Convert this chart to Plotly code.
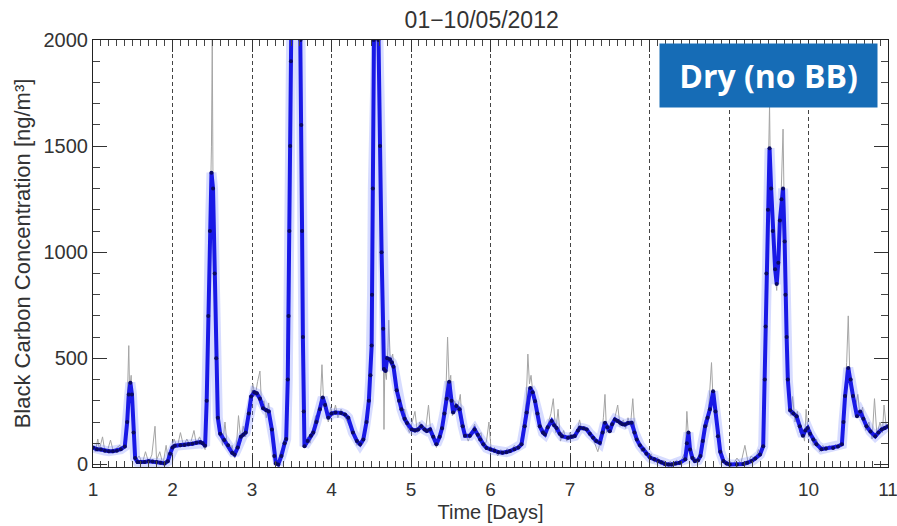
import plotly.graph_objects as go

# Dias / valores (curva azul suavizada)
blue_days = [1.00, 1.05, 1.10, 1.15, 1.20, 1.25, 1.30, 1.35, 1.40, 1.43, 1.45, 1.47, 1.49, 1.51, 1.53, 1.56,
             1.60, 1.65, 1.70, 1.75, 1.80, 1.85, 1.90, 1.94, 1.97, 2.00, 2.03, 2.10, 2.15, 2.20, 2.25, 2.30,
             2.35, 2.38, 2.41, 2.43, 2.45, 2.47, 2.49, 2.51, 2.53, 2.55, 2.57, 2.60, 2.65, 2.70, 2.75, 2.78,
             2.82, 2.86, 2.89, 2.92, 2.96, 2.99, 3.03, 3.06, 3.10, 3.14, 3.18, 3.21, 3.25, 3.28, 3.30, 3.33,
             3.37, 3.41, 3.43, 3.45, 3.46, 3.47, 3.48, 3.49, 3.50, 3.55, 3.60, 3.61, 3.62, 3.63, 3.64, 3.65,
             3.66, 3.70, 3.74, 3.77, 3.81, 3.855, 3.89, 3.92, 3.96, 4.00, 4.05, 4.12, 4.17, 4.21, 4.27, 4.32,
             4.36, 4.40, 4.44, 4.47, 4.49, 4.505, 4.51, 4.52, 4.53, 4.54, 4.58, 4.59, 4.61, 4.63, 4.65, 4.66,
             4.68, 4.70, 4.735, 4.76, 4.78, 4.82, 4.85, 4.88, 4.92, 4.95, 5.01, 5.05, 5.09, 5.13, 5.17, 5.20,
             5.24, 5.28, 5.32, 5.36, 5.39, 5.42, 5.45, 5.48, 5.51, 5.53, 5.57, 5.61, 5.65, 5.68, 5.74, 5.80,
             5.84, 5.87, 5.91, 5.95, 6.00, 6.05, 6.10, 6.15, 6.20, 6.245, 6.30, 6.35, 6.39, 6.43, 6.455, 6.50,
             6.53, 6.56, 6.59, 6.62, 6.66, 6.685, 6.72, 6.77, 6.80, 6.83, 6.87, 6.90, 6.975, 7.02, 7.06, 7.10,
             7.125, 7.17, 7.21, 7.25, 7.29, 7.33, 7.375, 7.41, 7.44, 7.47, 7.50, 7.53, 7.565, 7.60, 7.63, 7.66,
             7.69, 7.73, 7.775, 7.81, 7.84, 7.88, 7.92, 7.96, 8.01, 8.06, 8.11, 8.15, 8.195, 8.24, 8.28, 8.33,
             8.38, 8.45, 8.47, 8.49, 8.51, 8.54, 8.57, 8.61, 8.64, 8.67, 8.70, 8.73, 8.76, 8.80, 8.83, 8.86,
             8.89, 8.93, 8.97, 9.01, 9.10, 9.18, 9.23, 9.285, 9.33, 9.39, 9.43, 9.45, 9.46, 9.47, 9.49, 9.51,
             9.53, 9.55, 9.58, 9.60, 9.62, 9.64, 9.66, 9.68, 9.70, 9.71, 9.725, 9.74, 9.77, 9.81, 9.85, 9.89,
             9.93, 9.96, 9.99, 10.02, 10.06, 10.10, 10.165, 10.22, 10.31, 10.37, 10.42, 10.44, 10.46, 10.50,
             10.53, 10.56, 10.61, 10.65, 10.69, 10.73, 10.78, 10.84, 10.88, 10.92, 10.96, 11.00]
blue_vals = [80, 72, 70, 65, 62, 62, 65, 72, 85, 200, 330, 385, 330, 150, 30, 12,
             10, 12, 15, 14, 12, 8, 5, 15, 50, 80, 88, 90, 92, 95, 98, 102,
             105, 100, 88, 300, 700, 1100, 1375, 1300, 900, 500, 220, 145, 115, 90, 55, 47,
             80, 130, 140, 150, 240, 320, 340, 335, 310, 265, 255, 250, 165, 40, 5, 0,
             40, 100, 120, 400, 700, 1100, 1500, 1900, 2300, 2600, 2300, 2000, 1600, 1100, 600, 250,
             86, 110, 135, 150, 200, 260, 315, 280, 220, 240, 245, 243, 235, 220, 150, 110,
             95, 118, 200, 300, 420, 560, 800, 1300, 2000, 2300, 2300, 2000, 1500, 1000, 640, 450,
             440, 500, 495, 480, 460, 350, 300, 260, 215, 195, 165, 160, 165, 180, 165, 158,
             165, 130, 95, 130, 170, 240, 310, 390, 300, 245, 275, 260, 180, 135, 135, 165,
             140, 118, 95, 78, 70, 64, 58, 55, 58, 63, 72, 80, 95, 180, 245, 360,
             340, 298, 240, 180, 150, 142, 175, 205, 185, 172, 145, 133, 126, 130, 134, 160,
             173, 170, 165, 145, 126, 110, 102, 150, 196, 175, 157, 190, 212, 205, 196, 190,
             188, 195, 196, 150, 118, 90, 70, 50, 31, 25, 16, 10, 2, 0, 0, 5,
             8, 24, 100, 150, 71, 30, 16, 20, 40, 110, 180, 220, 260, 345, 250, 133,
             60, 16, 5, 0, 0, 2, 8, 16, 28, 47, 86, 400, 650, 900, 1200, 1490,
             1300, 1100, 920, 850, 950, 1150, 1250, 1300, 1050, 800, 600, 400, 255, 240, 227, 180,
             135, 160, 172, 145, 118, 95, 72, 75, 78, 85, 95, 200, 322, 455,
             400, 322, 227, 250, 215, 180, 155, 133, 150, 165, 172, 180]

# Dados brutos (linha cinza)
gray_days = [1.00, 1.03, 1.06, 1.08, 1.12, 1.15, 1.19, 1.22, 1.26, 1.30, 1.34, 1.38, 1.41, 1.43, 1.45, 1.46,
             1.48, 1.50, 1.52, 1.54, 1.58, 1.62, 1.66, 1.70, 1.74, 1.78, 1.80, 1.84, 1.88, 1.92, 1.95, 1.98,
             2.02, 2.06, 2.10, 2.14, 2.18, 2.22, 2.27, 2.30, 2.34, 2.38, 2.41, 2.43, 2.45, 2.47, 2.49, 2.50,
             2.51, 2.53, 2.55, 2.57, 2.60, 2.63, 2.66, 2.69, 2.72, 2.75, 2.78, 2.81, 2.83, 2.86, 2.89, 2.92,
             2.95, 2.98, 3.01, 3.04, 3.07, 3.10, 3.12, 3.15, 3.18, 3.21, 3.24, 3.27, 3.30, 3.33, 3.36, 3.40,
             3.43, 3.45, 3.47, 3.49, 3.50, 3.61, 3.63, 3.65, 3.66, 3.70, 3.73, 3.77, 3.80, 3.83, 3.86, 3.88,
             3.90, 3.93, 3.96, 3.99, 4.02, 4.05, 4.08, 4.12, 4.16, 4.20, 4.24, 4.28, 4.32, 4.36, 4.40, 4.44,
             4.47, 4.49, 4.505, 4.51, 4.53, 4.54, 4.58, 4.59, 4.63, 4.65, 4.66, 4.67, 4.69, 4.71, 4.72, 4.74,
             4.77, 4.80, 4.83, 4.86, 4.89, 4.92, 4.95, 4.98, 5.01, 5.05, 5.08, 5.11, 5.14, 5.18, 5.22, 5.25,
             5.29, 5.32, 5.36, 5.39, 5.42, 5.44, 5.46, 5.48, 5.50, 5.52, 5.55, 5.58, 5.62, 5.65, 5.68, 5.72,
             5.76, 5.80, 5.84, 5.88, 5.91, 5.95, 5.98, 6.01, 6.05, 6.09, 6.13, 6.17, 6.21, 6.25, 6.30, 6.34,
             6.38, 6.42, 6.45, 6.47, 6.49, 6.51, 6.54, 6.57, 6.60, 6.63, 6.66, 6.70, 6.73, 6.76, 6.79, 6.82,
             6.85, 6.88, 6.92, 6.96, 7.00, 7.04, 7.08, 7.12, 7.15, 7.19, 7.23, 7.27, 7.31, 7.35, 7.39, 7.42,
             7.44, 7.46, 7.50, 7.53, 7.57, 7.60, 7.63, 7.67, 7.70, 7.73, 7.76, 7.79, 7.82, 7.86, 7.90, 7.94,
             7.98, 8.02, 8.06, 8.10, 8.14, 8.18, 8.22, 8.26, 8.30, 8.34, 8.38, 8.42, 8.45, 8.47, 8.49, 8.51,
             8.54, 8.57, 8.61, 8.64, 8.67, 8.70, 8.73, 8.75, 8.78, 8.80, 8.82, 8.85, 8.88, 8.91, 8.95, 9.00,
             9.05, 9.10, 9.15, 9.20, 9.24, 9.28, 9.33, 9.37, 9.40, 9.43, 9.45, 9.47, 9.49, 9.51, 9.52, 9.55,
             9.58, 9.60, 9.62, 9.65, 9.68, 9.69, 9.71, 9.73, 9.76, 9.78, 9.80, 9.83, 9.86, 9.89, 9.92, 9.95,
             9.97, 10.00, 10.03, 10.06, 10.10, 10.14, 10.18, 10.22, 10.26, 10.30, 10.34, 10.38, 10.42, 10.45,
             10.48, 10.50, 10.52, 10.55, 10.58, 10.62, 10.65, 10.68, 10.72, 10.76, 10.80, 10.83, 10.86, 10.90,
             10.93, 10.95, 10.98, 11.00]
gray_vals = [85, 60, 120, 70, 130, 60, 75, 115, 55, 80, 90, 70, 150, 280, 560, 350,
             420, 250, 180, 20, 40, 5, 60, 10, 45, 180, 20, 60, 0, 90, 10, 70,
             120, 80, 150, 85, 120, 90, 160, 95, 130, 90, 70, 300, 750, 1150, 1500, 2000,
             1300, 850, 450, 250, 160, 90, 200, 80, 60, 90, 30, 120, 230, 110, 180, 130,
             260, 300, 380, 320, 390, 440, 280, 300, 220, 290, 150, 60, 0, 20, 60, 90,
             130, 420, 1100, 1900, 2300, 2000, 1100, 250, 80, 130, 100, 170, 230, 200, 300, 470,
             300, 250, 200, 270, 230, 280, 220, 260, 230, 200, 170, 150, 90, 110, 100, 210,
             320, 420, 560, 800, 2000, 2300, 2300, 2000, 1000, 640, 165, 450, 400, 550, 680, 480,
             520, 380, 330, 280, 230, 260, 180, 150, 190, 250, 150, 200, 170, 150, 280, 140,
             110, 80, 150, 160, 280, 350, 600, 380, 420, 230, 300, 250, 330, 160, 150, 110,
             150, 190, 130, 150, 80, 110, 200, 60, 80, 40, 70, 50, 75, 55, 90, 70,
             110, 200, 300, 520, 380, 420, 310, 280, 230, 160, 170, 130, 200, 240, 310, 150,
             260, 110, 160, 110, 150, 120, 140, 210, 160, 180, 150, 130, 100, 60, 120, 220,
             330, 150, 180, 170, 230, 280, 180, 210, 170, 220, 180, 310, 130, 100, 60, 80,
             30, 50, 10, 35, 0, 20, 0, 15, 0, 20, 5, 40, 60, 250, 130, 90,
             20, 35, 10, 60, 130, 210, 180, 300, 480, 300, 330, 150, 80, 20, 0, 20,
             0, 30, 5, 90, 10, 40, 20, 70, 40, 100, 350, 950, 1300, 1690, 1400, 1150,
             900, 820, 980, 1200, 1580, 1300, 800, 500, 270, 230, 320, 200, 250, 150, 170, 110,
             260, 130, 160, 90, 120, 60, 90, 65, 90, 70, 95, 80, 110, 300,
             480, 700, 420, 380, 250, 330, 220, 270, 160, 200, 120, 310, 140, 200,
             150, 280, 170, 190]

x_ticks = [1, 2, 3, 4, 5, 6, 7, 8, 9, 10, 11]
y_ticks = [0, 500, 1000, 1500, 2000]

font_txt = "Liberation Sans, Arial, sans-serif"

fig = go.Figure()

# Dados brutos
fig.add_trace(go.Scatter(x=gray_days, y=gray_vals, mode="lines",
                         line=dict(color="rgb(165,165,165)", width=1)))
# Halo claro em volta da média
fig.add_trace(go.Scatter(x=blue_days, y=blue_vals, mode="lines",
                         line=dict(color="rgba(110,130,255,0.28)", width=10)))
# Média suavizada
fig.add_trace(go.Scatter(x=blue_days, y=blue_vals, mode="lines+markers",
                         line=dict(color="rgb(25,25,230)", width=4),
                         marker=dict(color="rgb(10,10,100)", size=4)))

fig.update_layout(
    width=897, height=526,
    showlegend=False,
    plot_bgcolor="white", paper_bgcolor="white",
    margin=dict(l=93, r=9, t=40, b=59, autoexpand=False),
    font=dict(family=font_txt, size=19, color="#333333"),
    title=dict(text="01\u221210/05/2012", x=0.537, xanchor="center", y=0.963, yanchor="middle",
               font=dict(family=font_txt, size=23, color="#333333")),
)

fig.update_xaxes(
    range=[1, 11], tickvals=x_ticks, ticktext=[str(v) for v in x_ticks],
    showline=True, linecolor="#222222", linewidth=1, mirror="ticks",
    ticks="inside", ticklen=12, tickcolor="#333333",
    minor=dict(ticks="inside", ticklen=6, dtick=0.1, tick0=1, tickcolor="#444444", showgrid=False),
    showgrid=True, gridcolor="#444444", griddash="4px,3px", gridwidth=1,
    zeroline=False, automargin=False, ticklabeloverflow="allow", ticklabelstandoff=5,
    title=dict(text="Time [Days]", standoff=6, font=dict(size=20)),
    tickfont=dict(size=19),
)
fig.update_yaxes(
    range=[-12, 2000], tickvals=y_ticks, ticktext=[str(v) for v in y_ticks],
    showline=True, linecolor="#222222", linewidth=1, mirror="ticks",
    ticks="inside", ticklen=14, tickcolor="#333333",
    minor=dict(ticks="inside", ticklen=7, dtick=100, tick0=0, tickcolor="#444444", showgrid=False),
    showgrid=False, zeroline=False, automargin=False,
    title=dict(text="Black Carbon Concentration [ng/m\u00b3]", standoff=6, font=dict(size=22)),
    tickfont=dict(size=20),
)

# Caixa "Dry (no BB)"
fig.add_annotation(
    text="<b>Dry (no BB)</b>", xref="paper", yref="paper", x=0.8497, y=0.917,
    xanchor="center", yanchor="middle", showarrow=False,
    width=217, height=63, bgcolor="rgb(22,108,182)", borderpad=0,
    font=dict(family="Open Sans, Noto Sans, sans-serif", size=32, color="white"),
)

# Sem margem do body, para a figura ocupar a janela toda
fig.write_html("out.html", config={"displayModeBar": False},
               post_script="document.body.style.margin='0px';")
